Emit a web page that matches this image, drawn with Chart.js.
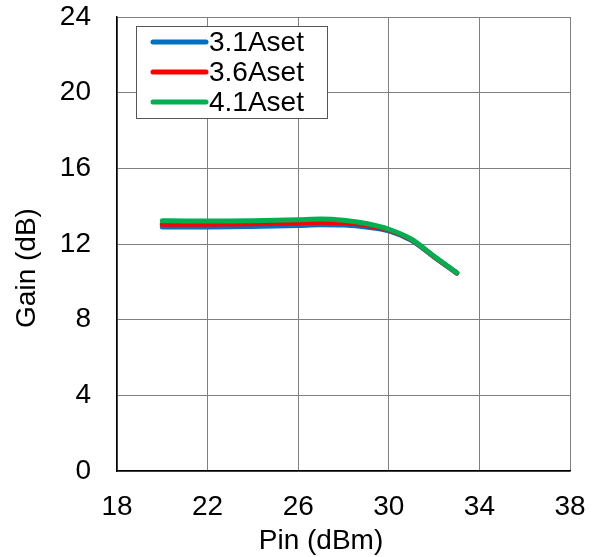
<!DOCTYPE html>
<html>
<head>
<meta charset="utf-8">
<script src="https://cdn.jsdelivr.net/npm/chart.js@4"></script>
<style>
  html, body { margin: 0; padding: 0; background: #fff; }
  #wrap { width: 597px; height: 557px; }
</style>
</head>
<body>
<div id="wrap"><canvas id="chart" width="597" height="557"></canvas></div>
<script>
// Pin (dBm)
const PIN = [20, 21, 22, 23, 24, 25, 26, 27, 28, 29, 30, 31, 32, 33];
// Gain (dB)
const GAIN_31 = [12.90, 12.90, 12.90, 12.91, 12.93, 12.95, 12.98, 13.02, 13.00, 12.90, 12.70, 12.20, 11.32, 10.46];
const GAIN_36 = [13.05, 13.05, 13.05, 13.06, 13.07, 13.09, 13.12, 13.15, 13.12, 13.00, 12.75, 12.23, 11.33, 10.47];
const GAIN_41 = [13.23, 13.22, 13.22, 13.22, 13.23, 13.25, 13.28, 13.32, 13.25, 13.08, 12.78, 12.25, 11.35, 10.48];
const LABELS = ['3.1Aset', '3.6Aset', '4.1Aset'];
const COLORS = ['#0070C0', '#FF0000', '#00B050'];

const FONT = 'Liberation Sans, Arial, sans-serif';
const FS = 28;

function points(ys) {
  return PIN.map((x, i) => ({ x: x, y: ys[i] }));
}

// axis titles + boxed legend drawn on top of the chart area
const extras = {
  id: 'extras',
  afterDraw(chart) {
    const ctx = chart.ctx;
    const area = chart.chartArea;
    ctx.save();
    ctx.fillStyle = '#000';
    ctx.font = FS + 'px ' + FONT;
    ctx.textAlign = 'center';
    ctx.textBaseline = 'middle';
    ctx.fillText('Pin (dBm)', 321, 541);
    ctx.translate(27, 268);
    ctx.rotate(-Math.PI / 2);
    ctx.fillText('Gain (dB)', 0, 0);
    ctx.restore();

    // legend
    const bx = area.left + 19, by = area.top + 9, bw = 191, bh = 92;
    ctx.save();
    ctx.fillStyle = '#fff';
    ctx.fillRect(bx, by, bw, bh);
    ctx.strokeStyle = '#555';
    ctx.lineWidth = 1;
    ctx.strokeRect(bx + 0.5, by + 0.5, bw, bh);
    ctx.font = FS + 'px ' + FONT;
    ctx.textBaseline = 'middle';
    ctx.textAlign = 'left';
    chart.data.datasets.forEach((ds, i) => {
      const y = by + 16 + i * 30;
      ctx.strokeStyle = ds.borderColor;
      ctx.lineWidth = 5;
      ctx.lineCap = 'round';
      ctx.beginPath();
      ctx.moveTo(bx + 17, y);
      ctx.lineTo(bx + 70, y);
      ctx.stroke();
      ctx.fillStyle = '#000';
      ctx.fillText(ds.label, bx + 73, y + 1);
    });
    ctx.restore();
  }
};

new Chart(document.getElementById('chart'), {
  type: 'line',
  data: {
    datasets: [GAIN_31, GAIN_36, GAIN_41].map((ys, i) => ({
      label: LABELS[i],
      data: points(ys),
      borderColor: COLORS[i],
      order: 3 - i,
      borderWidth: 5,
      pointRadius: 0,
      fill: false,
      cubicInterpolationMode: 'monotone',
      borderCapStyle: 'round',
      borderJoinStyle: 'round'
    }))
  },
  options: {
    responsive: false,
    animation: false,
    layout: { padding: { left: 0, top: 17, right: 27, bottom: 0 } },
    plugins: {
      legend: { display: false },
      tooltip: { enabled: false }
    },
    scales: {
      x: {
        type: 'linear',
        min: 18,
        max: 38,
        ticks: { stepSize: 4, color: '#000', font: { family: FONT, size: FS }, padding: 19, maxRotation: 0 },
        grid: { color: '#808080', lineWidth: 1, drawTicks: false },
        border: { color: '#000', width: 1.5 },
        afterFit(scale) { scale.height = 86; scale.paddingLeft = 0; scale.paddingRight = 0; }
      },
      y: {
        min: 0,
        max: 24,
        ticks: { stepSize: 4, color: '#000', font: { family: FONT, size: FS }, padding: 26 },
        grid: { color: '#808080', lineWidth: 1, drawTicks: false },
        border: { color: '#000', width: 1.5 },
        afterFit(scale) { scale.width = 117; scale.paddingTop = 0; scale.paddingBottom = 0; }
      }
    }
  },
  plugins: [extras]
});
</script>
</body>
</html>
